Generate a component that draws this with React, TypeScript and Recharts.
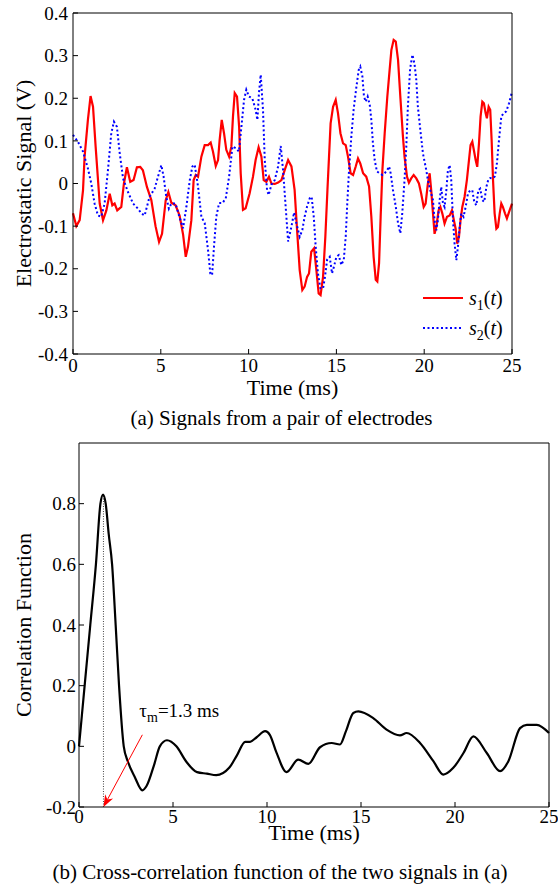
import { Label, Legend, Line, LineChart, ReferenceLine, XAxis, YAxis } from 'recharts';

const FONT = '"Liberation Serif", "Times New Roman", serif';

// (a) 两路静电信号：[时间 ms, 电压 V]
const S1: [number, number][] = [
  [0, -0.07], [0.19, -0.1], [0.38, -0.086], [0.57, -0.016], [0.66, 0.063], [0.85, 0.15], [1.0, 0.205], [1.14, 0.18],
  [1.29, 0.086], [1.52, -0.047], [1.71, -0.086], [1.9, -0.063], [2.09, -0.024], [2.24, -0.051], [2.37, -0.047],
  [2.52, -0.063], [2.75, -0.055], [2.9, 0.0], [3.07, 0.038], [3.26, 0.004], [3.45, 0.008], [3.64, 0.038], [3.83, 0.039],
  [3.98, 0.031], [4.21, -0.008], [4.46, -0.039], [4.7, -0.1], [4.9, -0.137], [5.07, -0.118], [5.28, -0.039], [5.43, -0.02],
  [5.6, -0.045], [5.84, -0.051], [6.07, -0.075], [6.27, -0.12], [6.42, -0.172], [6.55, -0.148], [6.74, -0.086],
  [6.87, 0.008], [6.99, 0.02], [7.12, 0.016], [7.31, 0.063], [7.5, 0.09], [7.69, 0.09], [7.84, 0.096], [7.97, 0.075],
  [8.13, 0.041], [8.26, 0.055], [8.35, 0.102], [8.47, 0.149], [8.6, 0.118], [8.73, 0.079], [8.89, 0.063], [9.02, 0.087],
  [9.11, 0.157], [9.21, 0.212], [9.34, 0.204], [9.46, 0.133], [9.55, 0.024], [9.68, -0.062], [9.83, -0.058],
  [10.06, -0.023], [10.25, 0.016], [10.4, 0.055], [10.57, 0.085], [10.73, 0.063], [10.86, 0.008], [11.01, 0.004],
  [11.16, 0.016], [11.3, 0.0], [11.49, -0.001], [11.68, 0.002], [11.87, 0.008], [12.06, 0.032], [12.25, 0.055],
  [12.44, 0.04], [12.62, -0.015], [12.76, -0.109], [12.91, -0.203], [13.06, -0.25], [13.19, -0.242], [13.33, -0.219],
  [13.44, -0.211], [13.57, -0.16], [13.73, -0.152], [13.86, -0.203], [13.99, -0.258], [14.1, -0.262], [14.24, -0.219],
  [14.37, -0.125], [14.49, -0.015], [14.58, 0.063], [14.67, 0.141], [14.81, 0.18], [14.96, 0.196], [15.09, 0.165],
  [15.23, 0.118], [15.38, 0.094], [15.53, 0.09], [15.66, 0.063], [15.81, 0.024], [15.95, 0.02], [16.1, 0.04],
  [16.23, 0.059], [16.36, 0.047], [16.52, 0.024], [16.7, 0.016], [16.86, -0.007], [16.99, -0.078], [17.12, -0.172],
  [17.24, -0.226], [17.33, -0.23], [17.43, -0.187], [17.52, -0.078], [17.62, 0.032], [17.75, 0.118], [17.9, 0.204],
  [18.03, 0.266], [18.13, 0.313], [18.26, 0.337], [18.38, 0.333], [18.51, 0.29], [18.64, 0.204], [18.79, 0.11],
  [18.88, 0.063], [19.02, 0.016], [19.13, 0.002], [19.26, 0.012], [19.4, 0.02], [19.55, 0.012], [19.7, 0.0],
  [19.83, -0.024], [19.97, -0.055], [20.08, -0.047], [20.21, 0.0], [20.31, 0.024], [20.4, -0.016], [20.5, -0.07],
  [20.59, -0.118], [20.69, -0.102], [20.82, -0.063], [20.92, -0.055], [21.03, -0.07], [21.16, -0.094], [21.3, -0.078],
  [21.45, -0.075], [21.58, -0.063], [21.69, -0.086], [21.79, -0.106], [21.88, -0.141], [21.98, -0.125], [22.07, -0.086],
  [22.17, -0.055], [22.3, -0.031], [22.43, 0.008], [22.55, 0.055], [22.64, 0.09], [22.74, 0.098], [22.83, 0.078],
  [22.93, 0.055], [23.02, 0.039], [23.12, 0.094], [23.21, 0.157], [23.31, 0.192], [23.4, 0.188], [23.5, 0.165],
  [23.57, 0.153], [23.67, 0.18], [23.76, 0.173], [23.84, 0.102], [23.92, 0.008], [24.01, -0.07], [24.11, -0.106],
  [24.2, -0.102], [24.3, -0.07], [24.39, -0.047], [24.48, -0.055], [24.6, -0.07], [24.71, -0.082], [24.83, -0.067],
  [25.0, -0.047],
];

const S2: [number, number][] = [
  [0, 0.114], [0.28, 0.098], [0.57, 0.075], [0.85, 0.035], [1.04, 0.0], [1.23, -0.047], [1.42, -0.075], [1.61, -0.078],
  [1.8, -0.047], [1.99, 0.031], [2.18, 0.118], [2.33, 0.145], [2.5, 0.133], [2.66, 0.071], [2.85, 0.012], [3.13, -0.02],
  [3.42, -0.047], [3.7, -0.059], [3.89, -0.07], [4.08, -0.075], [4.36, -0.031], [4.65, -0.012], [4.84, 0.016],
  [5.03, 0.043], [5.16, 0.016], [5.31, -0.031], [5.46, -0.059], [5.6, -0.047], [5.84, -0.047], [6.07, -0.08],
  [6.27, -0.105], [6.46, -0.054], [6.65, 0.008], [6.8, 0.04], [6.93, 0.044], [7.12, -0.007], [7.31, -0.078],
  [7.5, -0.093], [7.69, -0.156], [7.82, -0.211], [7.92, -0.215], [8.03, -0.148], [8.16, -0.078], [8.32, -0.046],
  [8.51, -0.046], [8.7, -0.035], [8.89, 0.016], [9.08, 0.087], [9.27, 0.083], [9.45, 0.075], [9.59, 0.133],
  [9.74, 0.196], [9.87, 0.22], [10.02, 0.204], [10.21, 0.2], [10.4, 0.173], [10.5, 0.149], [10.59, 0.212],
  [10.69, 0.255], [10.82, 0.173], [10.92, 0.055], [11.05, -0.015], [11.14, -0.027], [11.3, -0.003], [11.49, 0.008],
  [11.68, 0.04], [11.83, 0.088], [11.96, 0.032], [12.11, -0.054], [12.25, -0.136], [12.44, -0.101], [12.59, -0.068],
  [12.72, -0.093], [12.91, -0.125], [13.06, -0.109], [13.19, -0.078], [13.33, -0.054], [13.48, -0.035], [13.59, -0.031],
  [13.71, -0.078], [13.82, -0.148], [13.95, -0.211], [14.09, -0.246], [14.24, -0.246], [14.35, -0.219], [14.47, -0.179],
  [14.62, -0.172], [14.75, -0.211], [14.86, -0.195], [15.0, -0.172], [15.13, -0.168], [15.28, -0.191], [15.42, -0.179],
  [15.53, -0.125], [15.62, -0.046], [15.72, 0.032], [15.85, 0.11], [15.98, 0.173], [16.14, 0.227], [16.27, 0.266],
  [16.36, 0.274], [16.48, 0.251], [16.57, 0.204], [16.67, 0.192], [16.78, 0.204], [16.9, 0.184], [16.99, 0.149],
  [17.08, 0.094], [17.18, 0.055], [17.31, 0.028], [17.47, 0.024], [17.62, 0.02], [17.75, 0.024], [17.9, 0.032],
  [18.0, 0.04], [18.09, 0.024], [18.22, -0.015], [18.38, -0.054], [18.51, -0.093], [18.64, -0.117], [18.75, -0.07],
  [18.88, 0.008], [18.98, 0.086], [19.07, 0.18], [19.2, 0.27], [19.33, 0.302], [19.45, 0.28], [19.55, 0.243],
  [19.64, 0.18], [19.78, 0.125], [19.93, 0.07], [20.12, 0.031], [20.21, 0.008], [20.35, -0.016], [20.5, -0.039],
  [20.59, -0.086], [20.69, -0.11], [20.78, -0.086], [20.88, -0.039], [20.97, -0.008], [21.07, -0.047], [21.16, -0.055],
  [21.26, -0.016], [21.35, 0.031], [21.45, 0.043], [21.54, 0.008], [21.64, -0.086], [21.73, -0.141], [21.83, -0.18],
  [21.92, -0.149], [22.02, -0.102], [22.11, -0.07], [22.24, -0.078], [22.36, -0.055], [22.49, -0.024], [22.62, -0.016],
  [22.74, -0.016], [22.85, -0.043], [22.97, -0.051], [23.08, -0.016], [23.19, -0.012], [23.31, -0.039], [23.42, -0.043],
  [23.54, -0.008], [23.65, 0.009], [23.76, 0.013], [23.91, 0.012], [24.03, 0.017], [24.14, 0.047], [24.26, 0.102],
  [24.39, 0.157], [24.52, 0.165], [24.67, 0.169], [24.83, 0.188], [25.0, 0.215],
];

// (b) 互相关函数：[时延 ms, 相关系数]
const CORR: [number, number][] = [
  [0, 0.0], [0.3, 0.2], [0.6, 0.4], [0.9, 0.6], [1.14, 0.8], [1.28, 0.83], [1.42, 0.8], [1.58, 0.7], [1.76, 0.6],
  [1.95, 0.4], [2.13, 0.2], [2.38, 0.0], [2.6, -0.05], [2.96, -0.1], [3.37, -0.145], [3.6, -0.13], [4.0, -0.06],
  [4.3, 0.0], [4.68, 0.02], [5.18, 0.0], [5.7, -0.05], [6.28, -0.085], [6.8, -0.09], [7.3, -0.095], [8.0, -0.07],
  [8.4, -0.03], [8.84, 0.015], [9.1, 0.015], [9.45, 0.03], [9.9, 0.05], [10.15, 0.038], [10.5, -0.02], [11.04, -0.085],
  [11.66, -0.044], [12.2, -0.058], [12.82, -0.003], [13.44, 0.011], [13.88, 0.006], [14.2, 0.05], [14.59, 0.11],
  [14.86, 0.115], [15.65, 0.093], [16.36, 0.055], [17.07, 0.036], [17.43, 0.044], [18.14, 0.011], [18.85, -0.049],
  [19.38, -0.093], [19.91, -0.071], [20.45, -0.022], [20.98, 0.033], [21.69, -0.022], [22.4, -0.082], [22.84, -0.049],
  [23.46, 0.06], [23.82, 0.071], [24.35, 0.071], [25.0, 0.044],
];

const TIME_TICKS = [0, 5, 10, 15, 20, 25];
const SIGNAL_TICKS = [-0.4, -0.3, -0.2, -0.1, 0, 0.1, 0.2, 0.3, 0.4];
const CORR_TICKS = [-0.2, 0, 0.2, 0.4, 0.6, 0.8];

const TAU_M = 1.3;
const CORR_PEAK = 0.83;
const ARROW_TAIL = { x: 3.37, y: 0.038 };

const SERIES_DASH: Record<string, string | undefined> = { 's1(t)': undefined, 's2(t)': '2 2.5' };

const toPoints = (rows: [number, number][]) => rows.map(([t, v]) => ({ t, v }));

const tickStyle = { fill: '#000', fontSize: 19, fontFamily: FONT };
const labelStyle = { fill: '#000', fontSize: 22, fontFamily: FONT, textAnchor: 'middle' as const };
const noLabel = () => <g />;

function SeriesName({ name }: { name: string }) {
  // "s1(t)" -> s₁(t)，s、t 斜体
  return (
    <span>
      <i>{name[0]}</i>
      <span style={{ fontSize: 14, position: 'relative', top: 5 }}>{name[1]}</span>(<i>t</i>)
    </span>
  );
}

function SignalLegend({ payload }: any) {
  return (
    <div style={{ fontFamily: FONT, fontSize: 20, color: '#000' }}>
      {(payload ?? []).map((entry: any) => (
        <div key={entry.value} style={{ display: 'flex', alignItems: 'center', height: 30 }}>
          <svg width={44} height={10}>
            <line x1={2} y1={5} x2={42} y2={5} stroke={entry.color} strokeWidth={2} strokeDasharray={SERIES_DASH[entry.value]} />
          </svg>
          <span style={{ marginLeft: 4 }}>
            <SeriesName name={entry.value} />
          </span>
        </div>
      ))}
    </div>
  );
}

function DelayArrow(props: any) {
  const { x1, y1, x2, y2 } = props;
  const ang = Math.atan2(y2 - y1, x2 - x1);
  const len = 12;
  const half = 4.5;
  const bx = x2 - len * Math.cos(ang);
  const by = y2 - len * Math.sin(ang);
  const nx = -Math.sin(ang);
  const ny = Math.cos(ang);
  const notchX = x2 - len * 0.7 * Math.cos(ang);
  const notchY = y2 - len * 0.7 * Math.sin(ang);
  return (
    <g>
      <line x1={x1} y1={y1} x2={notchX} y2={notchY} stroke="#ff0000" strokeWidth={1} />
      <polygon
        points={`${x2},${y2} ${bx + nx * half},${by + ny * half} ${notchX},${notchY} ${bx - nx * half},${by - ny * half}`}
        fill="#ff0000"
      />
      <text x={x1 - 3} y={y1 - 18} fontFamily={FONT} fontSize={19} fill="#000">
        τ<tspan fontSize={14} dy={5}>m</tspan>
        <tspan dy={-5}>=1.3 ms</tspan>
      </text>
    </g>
  );
}

function SignalsChart() {
  return (
    <LineChart width={558} height={400} margin={{ top: 12, right: 45, bottom: 0, left: 0 }}>
      <XAxis dataKey="t" type="number" domain={[0, 25]} ticks={TIME_TICKS} height={46} interval={0}
        tickSize={-5} tickMargin={10} stroke="#000" tick={tickStyle}>
        <Label value="Time (ms)" position="insideBottom" offset={5} style={labelStyle} />
      </XAxis>
      <XAxis xAxisId="top" orientation="top" dataKey="t" type="number" domain={[0, 25]} ticks={TIME_TICKS} height={1}
        interval={0} tickSize={-5} stroke="#000" tick={noLabel} />
      <YAxis type="number" domain={[-0.4, 0.4]} ticks={SIGNAL_TICKS} width={73} interval={0}
        tickSize={-5} tickMargin={10} stroke="#000" tick={tickStyle}>
        <Label value="Electrostatic Signal (V)" angle={-90} position="insideLeft" offset={23} style={labelStyle} />
      </YAxis>
      <YAxis yAxisId="right" orientation="right" type="number" domain={[-0.4, 0.4]} ticks={SIGNAL_TICKS} width={1}
        interval={0} tickSize={-5} stroke="#000" tick={noLabel} />
      <Line data={toPoints(S1)} dataKey="v" name="s1(t)" stroke="#ff0000" strokeWidth={2.2} dot={false} activeDot={false}
        type="linear" isAnimationActive={false} />
      <Line data={toPoints(S2)} dataKey="v" name="s2(t)" stroke="#0000ff" strokeWidth={2} strokeDasharray="2 2.5"
        dot={false} activeDot={false} type="linear" isAnimationActive={false} />
      <Legend layout="vertical" align="center" verticalAlign="middle" content={SignalLegend}
        wrapperStyle={{ left: 421, top: 283, width: 100 }} />
    </LineChart>
  );
}

function CorrelationChart() {
  return (
    <LineChart width={558} height={420} margin={{ top: 12, right: 8, bottom: 0, left: 0 }}>
      <XAxis dataKey="t" type="number" domain={[0, 25]} ticks={TIME_TICKS} height={43} interval={0}
        tickSize={-5} tickMargin={8} stroke="#000" tick={tickStyle}>
        <Label value="Time (ms)" position="insideBottom" offset={10} style={labelStyle} />
      </XAxis>
      <XAxis xAxisId="top" orientation="top" dataKey="t" type="number" domain={[0, 25]} ticks={TIME_TICKS} height={1}
        interval={0} tickSize={-5} stroke="#000" tick={noLabel} />
      <YAxis type="number" domain={[-0.2, 1]} ticks={CORR_TICKS} width={79} interval={0}
        tickSize={-5} tickMargin={8} stroke="#000" tick={tickStyle}>
        <Label value="Correlation Function" angle={-90} position="insideLeft" offset={23} style={labelStyle} />
      </YAxis>
      <YAxis yAxisId="right" orientation="right" type="number" domain={[-0.2, 1]} ticks={CORR_TICKS} width={1}
        interval={0} tickSize={-5} stroke="#000" tick={noLabel} />
      <ReferenceLine segment={[{ x: TAU_M, y: -0.2 }, { x: TAU_M, y: CORR_PEAK }]} stroke="#444" strokeWidth={1}
        strokeDasharray="1 1.5" />
      <Line data={toPoints(CORR)} dataKey="v" stroke="#000" strokeWidth={2.2} dot={false} activeDot={false}
        type="monotone" isAnimationActive={false} />
      <ReferenceLine segment={[ARROW_TAIL, { x: TAU_M, y: -0.2 }]} shape={DelayArrow} />
    </LineChart>
  );
}

const captionStyle = {
  position: 'absolute' as const,
  left: 0,
  width: 563,
  textAlign: 'center' as const,
  fontFamily: FONT,
  fontSize: 21,
  lineHeight: '21px',
  color: '#000',
};

export default function App() {
  return (
    <div style={{ position: 'absolute', left: 0, top: 0, width: 558, height: 886, background: '#fff' }}>
      <div style={{ position: 'absolute', left: 0, top: 0 }}>
        <SignalsChart />
      </div>
      <div style={{ ...captionStyle, top: 408 }}>(a) Signals from a pair of electrodes</div>
      <div style={{ position: 'absolute', left: 0, top: 430 }}>
        <CorrelationChart />
      </div>
      <div style={{ ...captionStyle, top: 862, width: 560 }}>(b) Cross-correlation function of the two signals in (a)</div>
    </div>
  );
}
